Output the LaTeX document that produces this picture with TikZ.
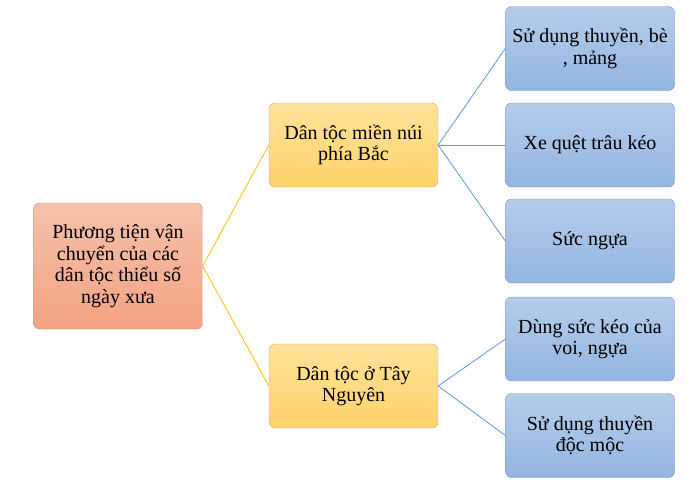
\documentclass[tikz,border=0pt]{standalone}
\usepackage{fontspec}
\setmainfont{Liberation Serif}
\begin{document}
\begin{tikzpicture}[x=1pt,y=-1pt,
  box/.style={rounded corners=6pt, minimum width=169pt, minimum height=84pt, align=center,
    font=\fontsize{20}{21.5}\selectfont, inner sep=1pt},
  rootbox/.style={box, minimum height=126pt, top color=rootTop, bottom color=rootBot, draw=rootLine},
  midbox/.style={box, top color=midTop, bottom color=midBot, draw=midLine},
  leafbox/.style={box, top color=leafTop, bottom color=leafBot, draw=leafLine},
  yline/.style={draw=yellowLine, line width=0.8pt},
  bline/.style={draw=blueLine, line width=0.8pt}]
\definecolor{rootTop}{HTML}{F5C2AB}
\definecolor{rootBot}{HTML}{F3A282}
\definecolor{rootLine}{HTML}{C9907E}
\definecolor{midTop}{HTML}{FFE29A}
\definecolor{midBot}{HTML}{FFD36A}
\definecolor{midLine}{HTML}{CDAE72}
\definecolor{leafTop}{HTML}{B5CDEA}
\definecolor{leafBot}{HTML}{93B5E0}
\definecolor{leafLine}{HTML}{7A96BE}
\definecolor{yellowLine}{HTML}{FFC000}
\definecolor{blueLine}{HTML}{5B9BD5}
\useasboundingbox (0,0) rectangle (700,488);
\node[rootbox] (root) at (118,266) {Phương tiện vận\\chuyển của các\\dân tộc thiểu số\\ngày xưa};
\node[midbox] (m1) at (353.5,145) {Dân tộc miền núi\\phía Bắc};
\node[midbox] (m2) at (353.5,386) {Dân tộc ở Tây\\Nguyên};
\node[leafbox] (l1) at (590,48.5) {Sử dụng thuyền, bè\\, mảng};
\node[leafbox] (l2) at (590,145) {Xe quệt trâu kéo};
\node[leafbox] (l3) at (590,241) {Sức ngựa};
\node[leafbox] (l4) at (590,339) {Dùng sức kéo của\\voi, ngựa};
\node[leafbox] (l5) at (590,435.5) {Sử dụng thuyền\\độc mộc};
\draw[yline] (root.east) -- (m1.west);
\draw[yline] (root.east) -- (m2.west);
\draw[bline] (m1.east) -- (l1.west);
\draw[bline] (m1.east) -- (l2.west);
\draw[bline] (m1.east) -- (l3.west);
\draw[bline] (m2.east) -- (l4.west);
\draw[bline] (m2.east) -- (l5.west);
\end{tikzpicture}
\end{document}
